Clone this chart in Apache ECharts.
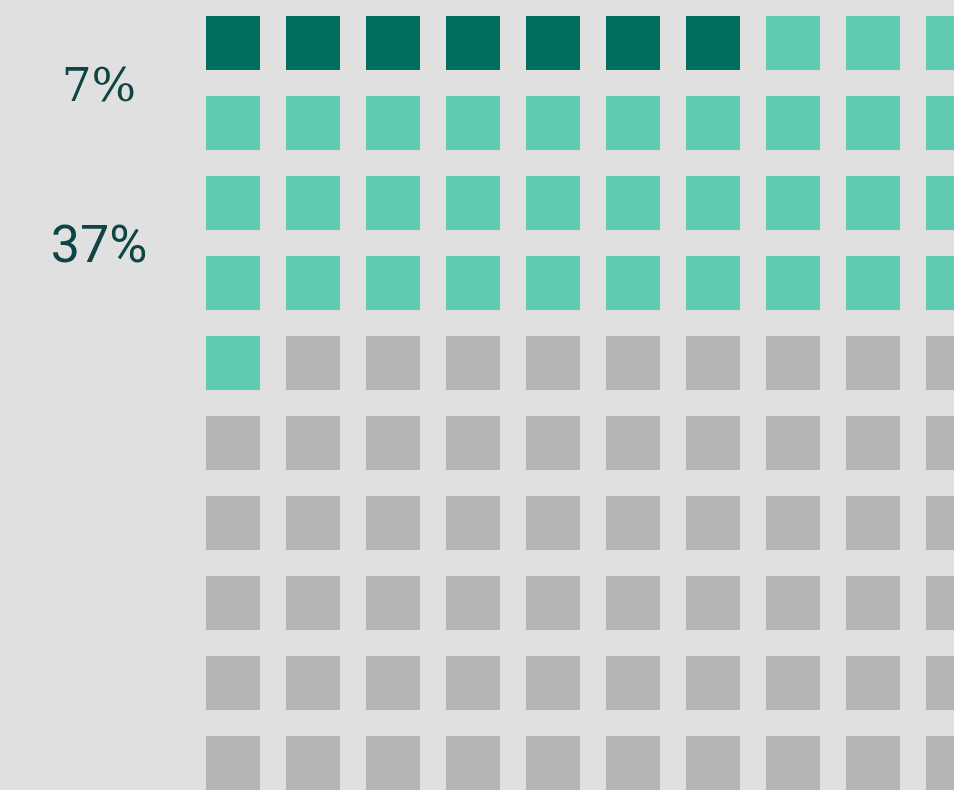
<!DOCTYPE html>
<html>
<head>
<meta charset="utf-8">
<script src="https://cdn.jsdelivr.net/npm/echarts@6/dist/echarts.min.js"></script>
<style>
html,body{margin:0;padding:0;background:#e0e0e0;}
#chart{width:954px;height:790px;}
</style>
</head>
<body>
<div id="chart"></div>
<script>
// Waffle data
const categories = ['dark', 'light', 'rest'];
const counts = [7, 34, 59];
const colors = ['#006e5f', '#5fcbb0', '#b5b5b5'];
const columns = 10;
const labels = ['7%', '37%'];

const seriesList = [];
let idx = 0;
categories.forEach((c, ci) => {
  const pts = [];
  for (let k = 0; k < counts[ci]; k++) {
    pts.push([idx % columns, Math.floor(idx / columns)]);
    idx++;
  }
  seriesList.push({
    name: c,
    type: 'scatter',
    symbol: 'rect',
    symbolSize: [54, 54],
    data: pts,
    itemStyle: { color: colors[ci], opacity: 1 },
    silent: true,
    animation: false
  });
});

const chart = echarts.init(document.getElementById('chart'), null, { renderer: 'canvas' });
chart.setOption({
  backgroundColor: '#e0e0e0',
  animation: false,
  grid: { left: 0, right: 0, top: 0, bottom: 0 },
  xAxis: { type: 'value', min: -2.9125, max: 9.0125, show: false },
  yAxis: { type: 'value', min: -0.5375, max: 9.3375, inverse: true, show: false },
  series: seriesList,
  graphic: [
    { type: 'text', x: 99, y: 89, style: { text: labels[0], font: '47px "DejaVu Serif"', fill: '#0d4444', align: 'center', verticalAlign: 'middle' } },
    { type: 'text', x: 99, y: 249, style: { text: labels[1], font: '52px Roboto', fill: '#0d4444', align: 'center', verticalAlign: 'middle' } }
  ]
});
</script>
</body>
</html>
